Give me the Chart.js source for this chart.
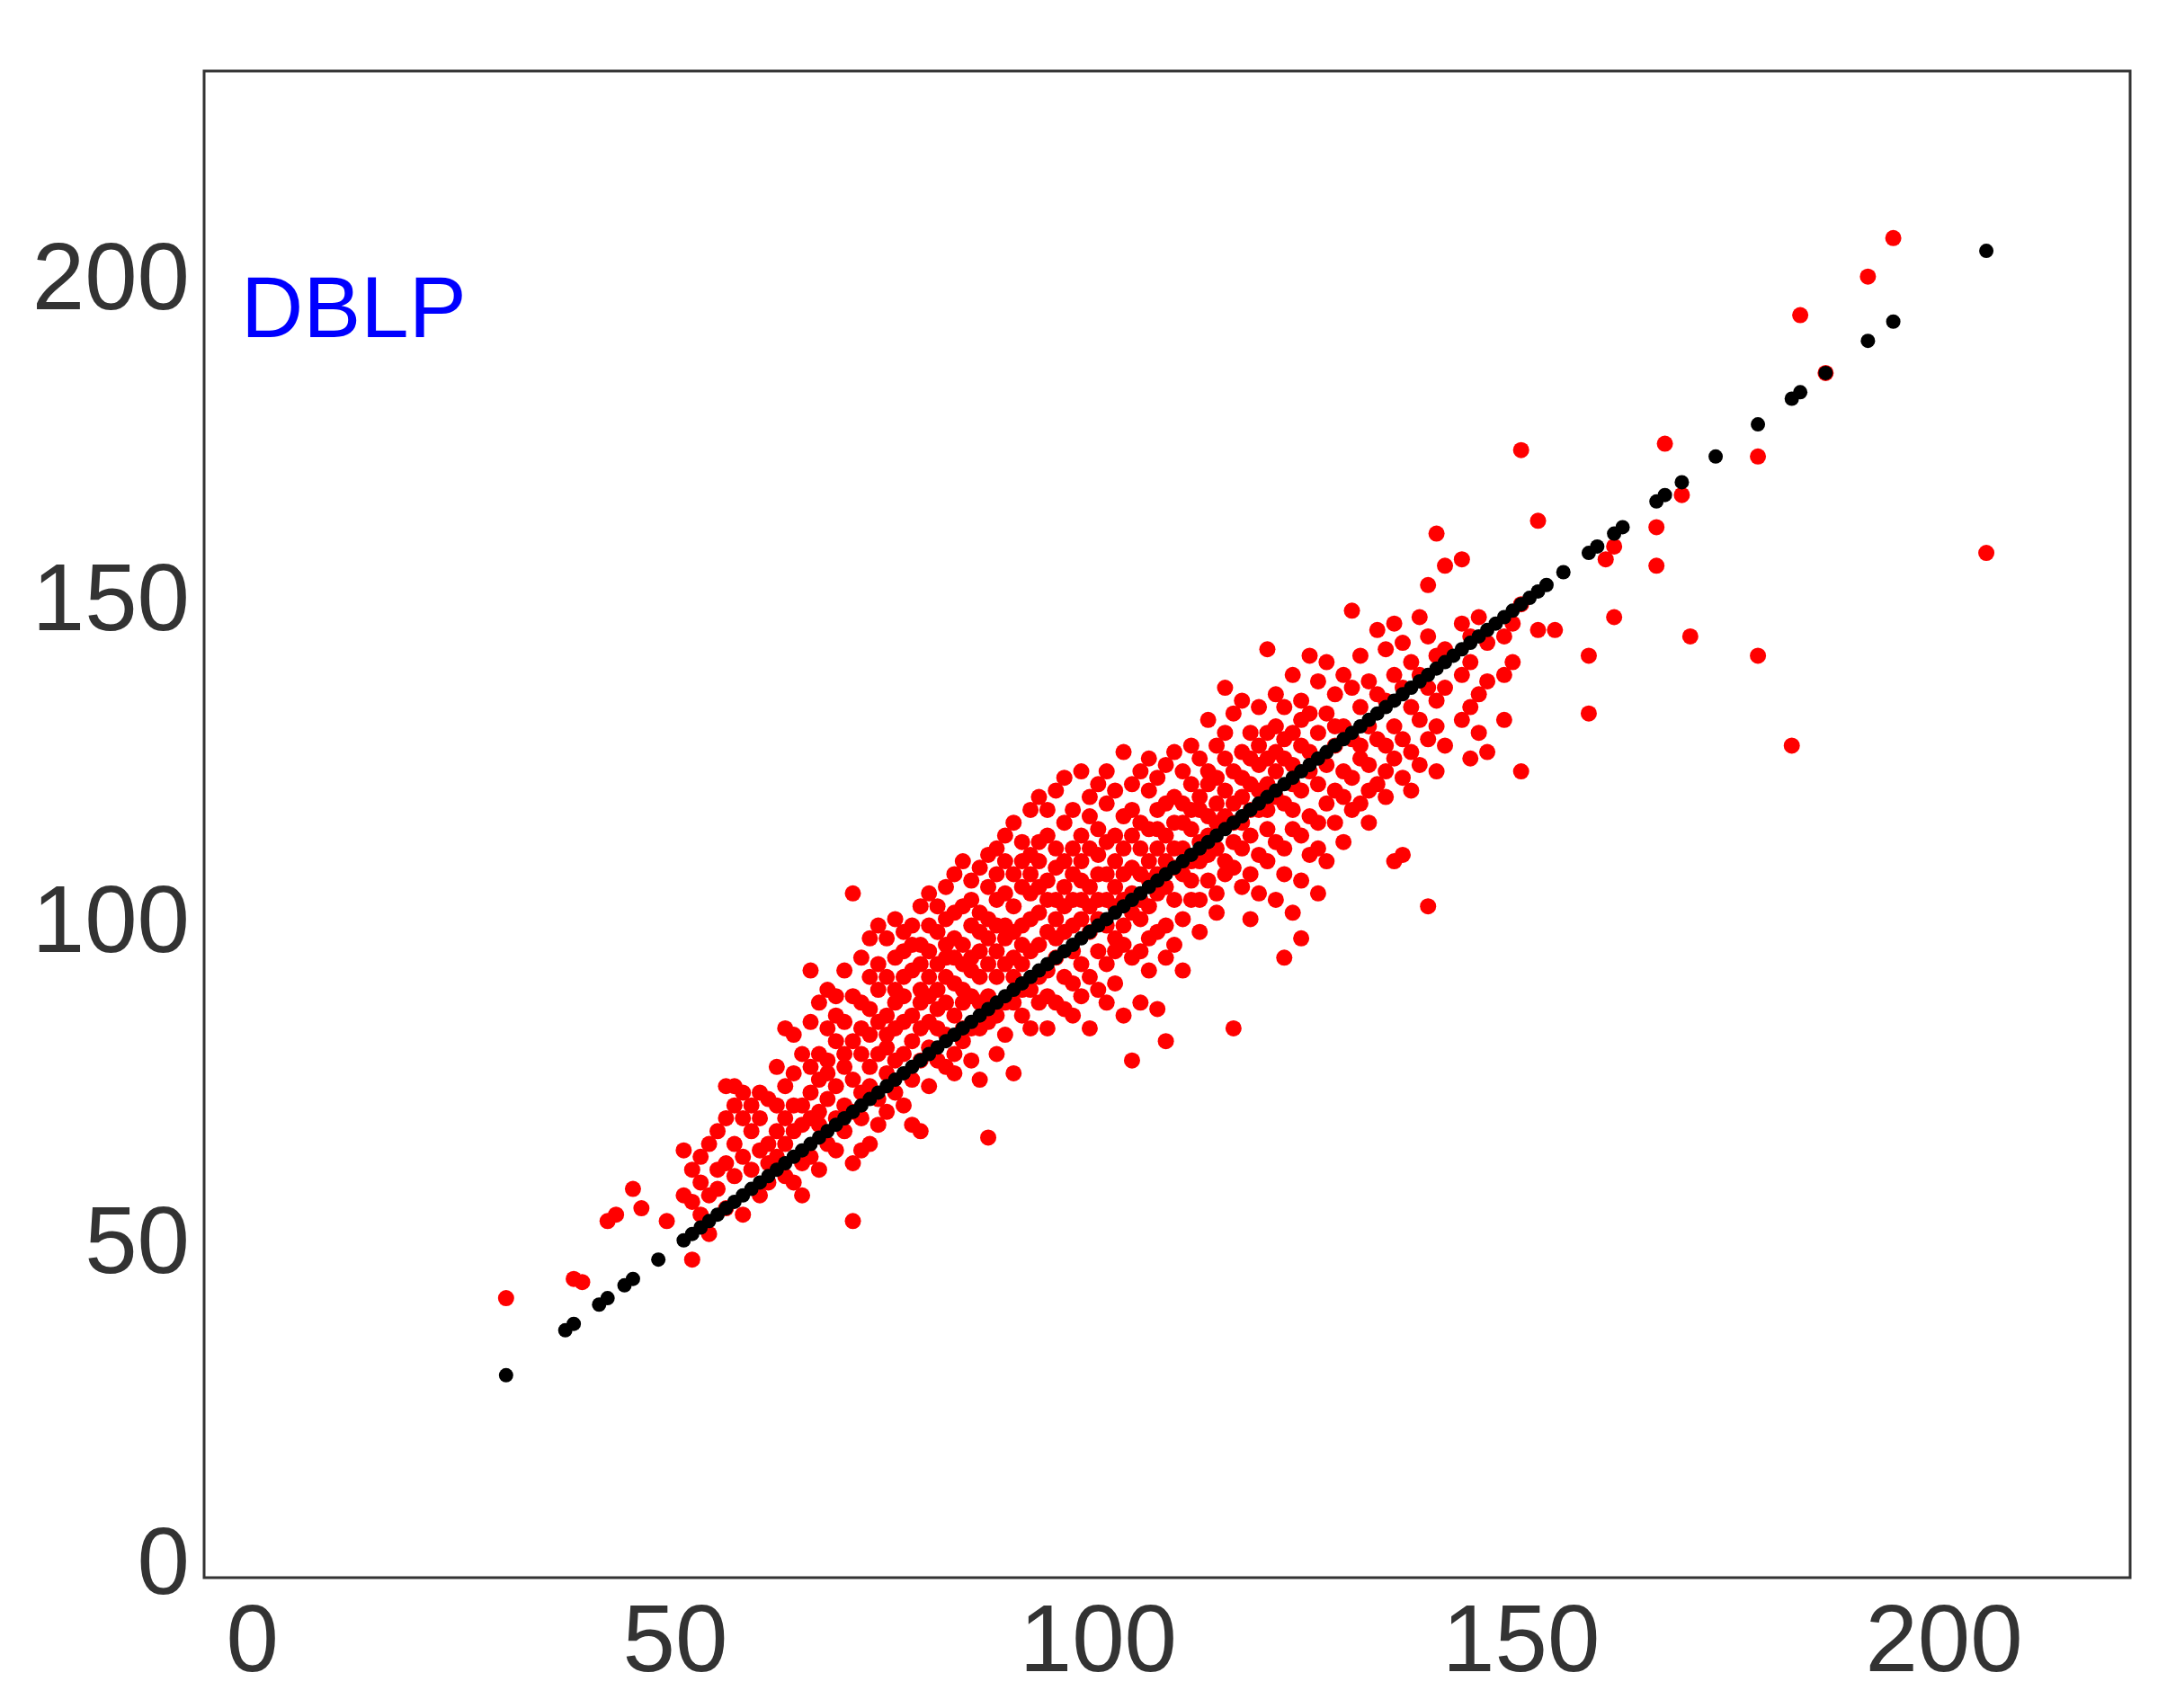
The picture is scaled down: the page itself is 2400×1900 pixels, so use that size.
<!DOCTYPE html>
<html>
<head>
<meta charset="utf-8">
<script src="https://cdn.jsdelivr.net/npm/chart.js@4/dist/chart.umd.min.js"></script>
<style>
  html, body { margin: 0; padding: 0; background: #fff; }
  canvas { display: block; }
</style>
</head>
<body>
<canvas id="chart" width="2400" height="1900"></canvas>
<script>
// tick values on both axes
let tickValues = [0, 50, 100, 150, 200];

// black points: fitted values (they lie on the diagonal)
let fitted = [30, 37, 38, 41, 42, 44, 45, 48, 51, 52, 53, 54, 55, 56, 57, 58, 59, 60,
  61, 62, 63, 64, 65, 66, 67, 68, 69, 70, 71, 72, 73, 74, 75, 76, 77, 78, 79, 80,
  81, 82, 83, 84, 85, 86, 87, 88, 89, 90, 91, 92, 93, 94, 95, 96, 97, 98, 99, 100,
  101, 102, 103, 104, 105, 106, 107, 108, 109, 110, 111, 112, 113, 114, 115, 116, 117, 118, 119, 120,
  121, 122, 123, 124, 125, 126, 127, 128, 129, 130, 131, 132, 133, 134, 135, 136, 137, 138, 139, 140,
  141, 142, 143, 144, 145, 146, 147, 148, 149, 150, 151, 152, 153, 155, 158, 159, 161, 162,
  166, 167, 169, 173, 178, 182, 183, 186, 191, 194, 205];

// red points: observed values, grouped by x
let observed = [
  [30, [42]], [38, [45]], [39, [44.5]], [42, [54]], [43, [55]], [45, [59]], [46, [56]],
  [49, [54]], [51, [65, 58]],
  [52, [62, 57, 48]], [53, [64, 60, 55]], [54, [58, 66, 52]], [55, [62, 68, 59]],
  [56, [75, 70, 63, 56]], [57, [75, 61, 66, 72]], [58, [70, 64, 55, 74]], [59, [68, 72, 62]],
  [60, [74, 65, 58, 70]], [61, [73, 66, 63, 60]], [62, [72, 68, 78, 64]],
  [63, [84, 70, 61, 66, 75]], [64, [83, 77, 60, 68, 72]], [65, [80, 72, 63, 69, 58]],
  [66, [93, 78, 70, 85, 64, 74]], [67, [80, 88, 76, 71, 62, 69]], [68, [90, 84, 73, 79, 66, 77]],
  [69, [82, 89, 75, 65, 70, 86]], [70, [78, 93, 85, 72, 80, 68]],
  [71, [105, 54, 89, 76, 82, 63, 71]], [72, [88, 95, 80, 74, 84, 70, 65]],
  [73, [92, 83, 66, 78, 87, 98, 75]], [74, [90, 100, 80, 73, 85, 94, 69]],
  [75, [98, 86, 77, 92, 71, 83, 81]], [76, [95, 88, 101, 79, 74, 84, 90]],
  [77, [89, 96, 80, 92, 72, 85, 99]], [78, [100, 93, 86, 76, 82, 97, 69]],
  [79, [97, 90, 68, 84, 103, 88, 79, 94]], [80, [105, 96, 85, 92, 75, 89, 100, 81]],
  [81, [99, 87, 94, 79, 103, 90, 84]], [82, [106, 92, 83, 97, 88, 101, 78, 95]],
  [83, [95, 102, 86, 91, 80, 108, 98, 77]], [84, [103, 90, 97, 84, 110, 94, 88, 82]],
  [85, [107, 95, 100, 89, 79, 93, 84, 104]], [86, [99, 109, 92, 84, 102, 76, 96, 88]],
  [87, [101, 94, 106, 67, 89, 98, 85, 111]], [88, [112, 100, 92, 104, 86, 96, 80, 108]],
  [89, [105, 98, 94, 110, 88, 100, 83, 114]], [90, [116, 103, 95, 108, 88, 99, 77, 92]],
  [91, [110, 100, 94, 106, 86, 113, 97, 90]], [92, [118, 105, 96, 111, 90, 101, 84, 108]],
  [93, [113, 102, 97, 88, 120, 106, 92, 110]], [94, [107, 114, 99, 93, 84, 104, 118, 89]],
  [95, [121, 109, 101, 95, 112, 88, 104, 98]], [96, [116, 106, 99, 92, 110, 87, 103, 123]],
  [97, [112, 104, 96, 118, 91, 108, 86, 100]], [98, [124, 110, 101, 94, 114, 104, 89, 107]],
  [99, [117, 106, 99, 112, 92, 103, 84, 120]], [100, [122, 111, 104, 96, 115, 90, 108, 101]],
  [101, [119, 108, 100, 113, 94, 104, 88, 124]], [102, [114, 106, 98, 121, 91, 110, 103, 96]],
  [103, [127, 112, 104, 97, 117, 86, 108, 100]], [104, [118, 109, 79, 102, 114, 95, 122, 105]],
  [105, [116, 108, 101, 124, 96, 112, 88, 104]], [106, [121, 110, 103, 115, 98, 126, 107, 93]],
  [107, [118, 112, 105, 99, 123, 87, 108, 115]], [108, [125, 114, 82, 106, 119, 100, 110, 95]],
  [109, [120, 112, 104, 127, 109, 116, 97]], [110, [124, 116, 108, 101, 119, 112, 93]],
  [111, [122, 115, 107, 128, 110, 104, 118]], [112, [126, 118, 110, 104, 120, 113, 99]],
  [113, [132, 122, 114, 107, 117, 111, 124]], [114, [128, 119, 112, 105, 123, 116, 102]],
  [115, [137, 126, 117, 110, 121, 130, 108]], [116, [84, 124, 116, 109, 133, 119, 113]],
  [117, [135, 127, 120, 112, 116, 106, 123]], [118, [130, 122, 114, 108, 126, 101, 118]],
  [119, [134, 125, 118, 111, 121, 105, 128]], [120, [143, 130, 122, 115, 126, 110, 118]],
  [121, [136, 127, 120, 113, 131, 104, 124]], [122, [134, 126, 119, 112, 129, 95, 108]],
  [123, [139, 130, 122, 115, 125, 102, 118]], [124, [135, 128, 121, 114, 132, 107, 98]],
  [125, [142, 133, 124, 117, 127, 111]], [126, [138, 130, 122, 116, 112, 105]],
  [127, [141, 133, 125, 119, 110]], [128, [136, 128, 121, 116, 131]],
  [129, [139, 131, 124, 120, 113]], [130, [149, 137, 129, 123, 118]],
  [131, [142, 134, 126, 119, 128]], [132, [138, 131, 125, 121, 116]],
  [133, [146, 136, 129, 122]], [134, [143, 135, 128, 120, 124]],
  [135, [147, 139, 131, 126, 110]], [136, [144, 137, 129, 123, 111]],
  [137, [141, 134, 127, 121]], [138, [148, 139, 132, 125]],
  [139, [153, 145, 137, 103, 129]], [140, [161, 142, 135, 131, 124]],
  [141, [156, 143, 137, 128]], [143, [157, 147, 139, 132]],
  [144, [141, 134, 126, 145]], [145, [148, 136, 130]], [146, [144, 138, 127]],
  [148, [145, 139, 132]], [149, [147, 141]], [150, [174, 124, 150]],
  [152, [163, 146]], [154, [146]], [158, [142, 133]], [160, [157]], [161, [159, 148]],
  [166, [162, 156]], [167, [175]], [169, [167]], [170, [145]], [178, [173, 142]],
  [182, [128]], [183, [195]], [186, [186]], [191, [201]], [194, [207]], [205, [158]]
];

let redPoints = [];
observed.forEach(function (col) {
  col[1].forEach(function (y) { redPoints.push({ x: col[0], y: y }); });
});
let blackPoints = fitted.map(function (v) { return { x: v, y: v }; });

const frame = {
  id: 'frame',
  afterDraw(chart) {
    const ctx = chart.ctx;
    const a = chart.chartArea;
    ctx.save();
    ctx.strokeStyle = '#333';
    ctx.lineWidth = 3;
    ctx.strokeRect(a.left, a.top, a.right - a.left, a.bottom - a.top);
    ctx.fillStyle = '#0000ff';
    ctx.font = '96px "Liberation Sans", Arial, sans-serif';
    ctx.textBaseline = 'alphabetic';
    ctx.fillText('DBLP', 268, 375);
    ctx.restore();
  }
};

function setTicks(scale) {
  scale.ticks = tickValues.map(function (v) { return { value: v }; });
}

new Chart(document.getElementById('chart').getContext('2d'), {
  type: 'scatter',
  data: {
    datasets: [
      { label: 'fitted', data: blackPoints, backgroundColor: '#000', borderWidth: 0, pointRadius: 8, order: 0 },
      { label: 'observed', data: redPoints, backgroundColor: '#ff0000', borderWidth: 0, pointRadius: 9, order: 1 }
    ]
  },
  options: {
    responsive: false,
    animation: false,
    devicePixelRatio: 1,
    layout: { padding: { top: 28, right: 31, left: 0, bottom: 0 } },
    plugins: { legend: { display: false }, tooltip: { enabled: false } },
    scales: {
      x: {
        type: 'linear', min: -5.7, max: 222,
        afterBuildTicks: setTicks,
        afterFit(scale) { scale.height = 145; },
        grid: { display: false, drawTicks: false },
        border: { display: false },
        ticks: { color: '#333', padding: 12, font: { size: 105, family: '"Liberation Sans", Arial, sans-serif' } }
      },
      y: {
        type: 'linear', min: -1.5, max: 233,
        afterBuildTicks: setTicks,
        afterFit(scale) { scale.width = 227; },
        grid: { display: false, drawTicks: false },
        border: { display: false },
        ticks: { color: '#333', padding: 16, font: { size: 105, family: '"Liberation Sans", Arial, sans-serif' } }
      }
    }
  },
  plugins: [frame]
});
</script>
</body>
</html>
